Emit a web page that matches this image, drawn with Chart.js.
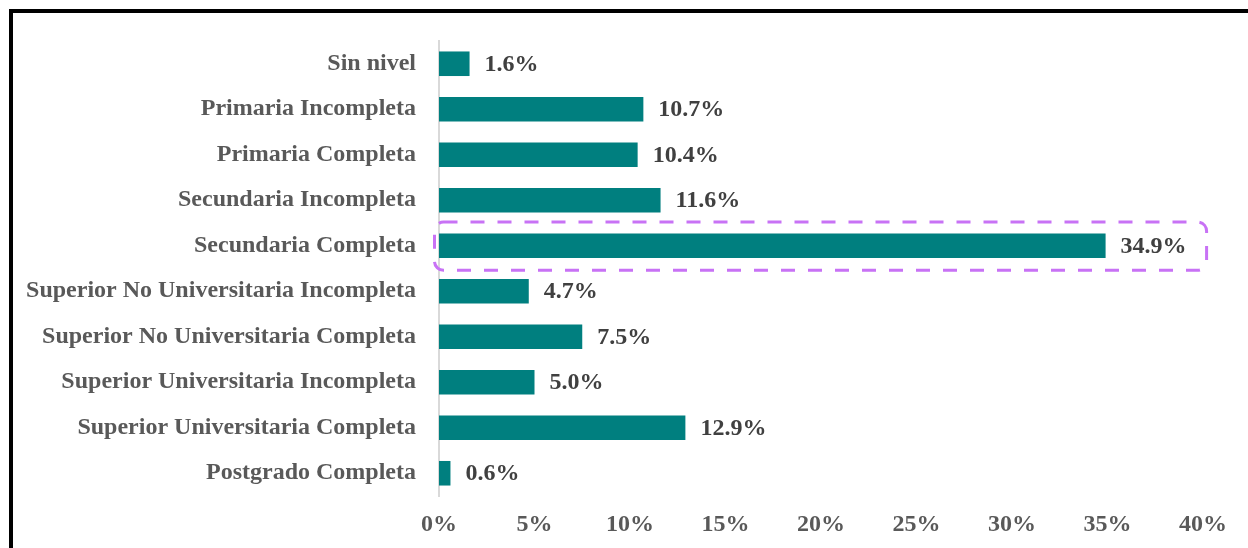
<!DOCTYPE html>
<html>
<head>
<meta charset="utf-8">
<script src="https://cdn.jsdelivr.net/npm/chart.js@4.4.1/dist/chart.umd.min.js"></script>
<style>
  html, body { margin: 0; padding: 0; background: #fff; overflow: hidden; }
  .frame { position: absolute; left: 9px; top: 9px; width: 1300px; height: 600px; border-left: 4px solid #000; border-top: 4px solid #000; }
  .wrap { position: absolute; left: 0; top: 0; width: 1248px; height: 548px; }
</style>
</head>
<body>
<div class="frame"></div>
<div class="wrap"><canvas id="chart"></canvas></div>
<script>
const categories = [
  'Sin nivel',
  'Primaria Incompleta',
  'Primaria Completa',
  'Secundaria Incompleta',
  'Secundaria Completa',
  'Superior No Universitaria Incompleta',
  'Superior No Universitaria Completa',
  'Superior Universitaria Incompleta',
  'Superior Universitaria Completa',
  'Postgrado Completa'
];
const shares = [1.6, 10.7, 10.4, 11.6, 34.9, 4.7, 7.5, 5.0, 12.9, 0.6];
const xTicks = [0, 5, 10, 15, 20, 25, 30, 35, 40];
const highlightIndex = 4;

const FONT = '"Liberation Serif", "Times New Roman", serif';

// value labels at the end of each bar
const valueLabels = {
  id: 'valueLabels',
  afterDatasetsDraw(chart) {
    const { ctx } = chart;
    const meta = chart.getDatasetMeta(0);
    ctx.save();
    ctx.font = 'bold 24px ' + FONT;
    ctx.fillStyle = '#404040';
    ctx.textBaseline = 'middle';
    ctx.textAlign = 'left';
    meta.data.forEach((bar, i) => {
      ctx.fillText(shares[i].toFixed(1) + '%', bar.x + 15, bar.y + 1);
    });
    ctx.restore();
  }
};

// dashed rounded box round the highlighted row
const highlightBox = {
  id: 'highlightBox',
  afterDatasetsDraw(chart) {
    const { ctx, scales } = chart;
    const bar = chart.getDatasetMeta(0).data[highlightIndex];
    const band = scales.y.getPixelForTick(1) - scales.y.getPixelForTick(0);
    ctx.save();
    ctx.font = 'bold 24px ' + FONT;
    const textW = ctx.measureText(shares[highlightIndex].toFixed(1) + '%').width;
    const left = scales.x.getPixelForValue(0) - 4.5;
    const right = bar.x + 15 + textW + 20;
    const top = bar.y - band * 0.52;
    const bottom = bar.y + band * 0.54;
    ctx.strokeStyle = '#C872F5';
    ctx.lineWidth = 3;
    ctx.setLineDash([14, 13]);
    ctx.beginPath();
    ctx.roundRect(left, top, right - left, bottom - top, 9);
    ctx.stroke();
    ctx.restore();
  }
};

new Chart(document.getElementById('chart'), {
  type: 'bar',
  data: {
    labels: categories,
    datasets: [
      {
        data: shares,
        backgroundColor: '#007F7F',
        borderWidth: 0,
        categoryPercentage: 1,
        barPercentage: 0.54
      }
    ]
  },
  options: {
    indexAxis: 'y',
    responsive: true,
    maintainAspectRatio: false,
    animation: false,
    layout: { padding: { left: 0, top: 41, right: 45, bottom: 0 } },
    plugins: { legend: { display: false }, tooltip: { enabled: false } },
    scales: {
      x: {
        min: 0,
        max: 40,
        afterBuildTicks: (scale) => { scale.ticks = xTicks.map((v) => ({ value: v })); },
        afterFit: (scale) => { scale.height = 52; },
        grid: { display: false },
        border: { display: false },
        ticks: {
          padding: 6,
          color: '#595959',
          font: { family: FONT, size: 24, weight: 'bold' },
          callback: (v) => v + '%'
        }
      },
      y: {
        afterFit: (scale) => { scale.width = 439; },
        grid: { display: false },
        border: { display: true, color: '#D9D9D9', width: 2 },
        ticks: {
          padding: 15,
          color: '#595959',
          font: { family: FONT, size: 24, weight: 'bold' }
        }
      }
    }
  },
  plugins: [valueLabels, highlightBox]
});
</script>
</body>
</html>
